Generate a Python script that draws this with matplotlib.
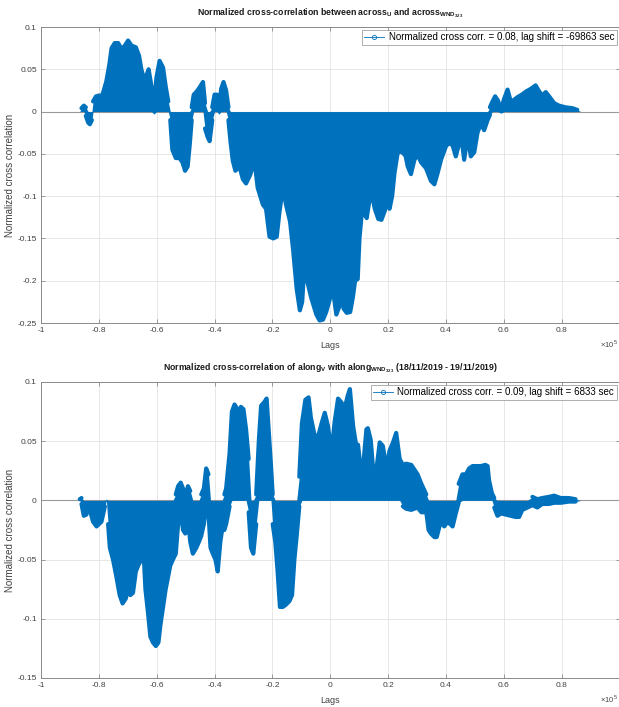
import numpy as np
import matplotlib
matplotlib.use("Agg")
import matplotlib.pyplot as plt
from matplotlib.lines import Line2D
from matplotlib.ticker import FuncFormatter, MultipleLocator

plt.rcParams['font.family'] = ['Liberation Sans', 'DejaVu Sans']
plt.rcParams['mathtext.fontset'] = 'custom'
plt.rcParams['mathtext.rm'] = 'Liberation Sans'
plt.rcParams['mathtext.bf'] = 'Liberation Sans:bold'

BLUE = '#0072BD'

# ---- across_U vs across_WND323: lags (x 1e5 s) with upper / lower stem envelopes ----
across_lags = [
    -0.866, -0.860, -0.852, -0.845, -0.837, -0.831, -0.824, -0.820, -0.810, -0.799,
    -0.791, -0.783, -0.774, -0.764, -0.756, -0.745, -0.733, -0.722, -0.710, -0.699,
    -0.687, -0.672, -0.661, -0.653, -0.645, -0.636, -0.628, -0.618, -0.609, -0.601,
    -0.590, -0.578, -0.569, -0.560, -0.553, -0.546, -0.534, -0.521, -0.511, -0.502,
    -0.493, -0.486, -0.479, -0.472, -0.461, -0.449, -0.440, -0.433, -0.424, -0.417,
    -0.408, -0.400, -0.392, -0.385, -0.377, -0.369, -0.360, -0.352, -0.345, -0.337,
    -0.328, -0.314, -0.302, -0.291, -0.277, -0.262, -0.251, -0.233, -0.222, -0.210,
    -0.197, -0.185, -0.176, -0.164, -0.153, -0.139, -0.128, -0.116, -0.105, -0.097,
    -0.089, -0.080, -0.066, -0.048, -0.037, -0.025, -0.014, 0.000, 0.009, 0.021,
    0.032, 0.039, 0.046, 0.057, 0.069, 0.078, 0.086, 0.095, 0.101, 0.108,
    0.118, 0.126, 0.136, 0.145, 0.154, 0.166, 0.177, 0.189, 0.197, 0.205,
    0.214, 0.222, 0.233, 0.245, 0.260, 0.268, 0.279, 0.291, 0.302, 0.314,
    0.331, 0.348, 0.360, 0.371, 0.383, 0.400, 0.411, 0.423, 0.434, 0.444,
    0.452, 0.463, 0.475, 0.486, 0.498, 0.509, 0.521, 0.532, 0.544, 0.552,
    0.561, 0.570, 0.580, 0.590, 0.601, 0.613, 0.624, 0.636, 0.647, 0.662,
    0.678, 0.694, 0.710, 0.722, 0.733, 0.745, 0.759, 0.774, 0.791, 0.814,
    0.837, 0.854, 0.866,
]
across_upper = [
    0.000, 0.004, 0.007, 0.005, 0.000, 0.000, 0.000, 0.012, 0.018, 0.019,
    0.017, 0.025, 0.036, 0.055, 0.075, 0.081, 0.081, 0.074, 0.078, 0.084,
    0.078, 0.076, 0.066, 0.050, 0.040, 0.042, 0.050, 0.030, 0.005, 0.040,
    0.060, 0.052, 0.030, 0.012, 0.000, 0.000, 0.000, 0.000, 0.000, 0.000,
    0.000, 0.000, 0.005, 0.020, 0.024, 0.030, 0.035, 0.010, 0.000, 0.000,
    0.005, 0.020, 0.020, 0.005, 0.027, 0.035, 0.025, 0.005, 0.000, 0.000,
    0.000, 0.000, 0.000, 0.000, 0.000, 0.000, 0.000, 0.000, 0.000, 0.000,
    0.000, 0.000, 0.000, 0.000, 0.000, 0.000, 0.000, 0.000, 0.000, 0.000,
    0.000, 0.000, 0.000, 0.000, 0.000, 0.000, 0.000, 0.000, 0.000, 0.000,
    0.000, 0.000, 0.000, 0.000, 0.000, 0.000, 0.000, 0.000, 0.000, 0.000,
    0.000, 0.000, 0.000, 0.000, 0.000, 0.000, 0.000, 0.000, 0.000, 0.000,
    0.000, 0.000, 0.000, 0.000, 0.000, 0.000, 0.000, 0.000, 0.000, 0.000,
    0.000, 0.000, 0.000, 0.000, 0.000, 0.000, 0.000, 0.000, 0.000, 0.000,
    0.000, 0.000, 0.000, 0.000, 0.000, 0.000, 0.000, 0.000, 0.000, 0.005,
    0.012, 0.018, 0.013, 0.002, 0.015, 0.026, 0.012, 0.014, 0.017, 0.020,
    0.024, 0.027, 0.031, 0.024, 0.019, 0.023, 0.017, 0.010, 0.007, 0.005,
    0.004, 0.002, 0.000,
]
across_lower = [
    0.000, 0.000, 0.000, -0.005, -0.013, -0.015, -0.010, 0.000, 0.000, 0.000,
    0.000, 0.000, 0.000, 0.000, 0.000, 0.000, 0.000, 0.000, 0.000, 0.000,
    0.000, 0.000, 0.000, 0.000, 0.000, 0.000, 0.000, 0.000, -0.003, 0.000,
    0.000, 0.000, 0.000, 0.000, -0.010, -0.045, -0.055, -0.055, -0.060, -0.070,
    -0.065, -0.040, -0.010, 0.000, 0.000, 0.000, 0.000, -0.020, -0.030, -0.035,
    -0.010, 0.000, 0.000, -0.003, 0.000, 0.000, 0.000, -0.010, -0.035, -0.058,
    -0.070, -0.065, -0.080, -0.085, -0.075, -0.058, -0.090, -0.110, -0.115, -0.148,
    -0.150, -0.148, -0.120, -0.090, -0.110, -0.130, -0.165, -0.210, -0.235, -0.225,
    -0.180, -0.200, -0.220, -0.240, -0.247, -0.246, -0.237, -0.220, -0.210, -0.240,
    -0.230, -0.205, -0.233, -0.238, -0.237, -0.220, -0.200, -0.198, -0.150, -0.124,
    -0.120, -0.126, -0.104, -0.100, -0.115, -0.127, -0.128, -0.117, -0.106, -0.115,
    -0.100, -0.073, -0.049, -0.047, -0.052, -0.065, -0.074, -0.057, -0.051, -0.060,
    -0.067, -0.082, -0.086, -0.073, -0.057, -0.041, -0.037, -0.040, -0.053, -0.040,
    -0.027, -0.057, -0.029, -0.053, -0.048, -0.025, -0.014, -0.022, -0.010, -0.004,
    0.000, 0.000, 0.000, -0.002, 0.000, 0.000, 0.000, 0.000, 0.000, 0.000,
    0.000, 0.000, 0.000, 0.000, 0.000, 0.000, 0.000, 0.000, 0.000, 0.000,
    0.000, 0.000, 0.000,
]

# ---- along_V vs along_WND323 ----
along_lags = [
    -0.866, -0.860, -0.852, -0.843, -0.837, -0.829, -0.820, -0.808, -0.791, -0.779,
    -0.774, -0.768, -0.762, -0.751, -0.739, -0.728, -0.718, -0.707, -0.699, -0.691,
    -0.682, -0.672, -0.664, -0.653, -0.647, -0.639, -0.630, -0.622, -0.613, -0.603,
    -0.594, -0.587, -0.578, -0.569, -0.561, -0.553, -0.544, -0.534, -0.526, -0.517,
    -0.509, -0.501, -0.492, -0.484, -0.475, -0.463, -0.454, -0.446, -0.437, -0.429,
    -0.421, -0.414, -0.406, -0.397, -0.389, -0.380, -0.374, -0.366, -0.360, -0.348,
    -0.340, -0.331, -0.323, -0.316, -0.309, -0.300, -0.291, -0.282, -0.274, -0.266,
    -0.256, -0.247, -0.239, -0.228, -0.220, -0.213, -0.205, -0.199, -0.190, -0.182,
    -0.174, -0.164, -0.153, -0.141, -0.132, -0.124, -0.116, -0.107, -0.098, -0.086,
    -0.075, -0.067, -0.055, -0.044, -0.030, -0.019, -0.008, 0.004, 0.015, 0.027,
    0.038, 0.050, 0.061, 0.068, 0.079, 0.090, 0.096, 0.105, 0.116, 0.125,
    0.130, 0.140, 0.148, 0.159, 0.171, 0.182, 0.194, 0.205, 0.217, 0.228,
    0.240, 0.251, 0.262, 0.280, 0.302, 0.315, 0.332, 0.340, 0.348, 0.360,
    0.368, 0.383, 0.394, 0.406, 0.423, 0.434, 0.444, 0.457, 0.469, 0.480,
    0.492, 0.503, 0.521, 0.536, 0.544, 0.549, 0.559, 0.567, 0.578, 0.590,
    0.607, 0.624, 0.641, 0.653, 0.664, 0.682, 0.699, 0.716, 0.733, 0.756,
    0.774, 0.797, 0.825, 0.848, 0.866,
]
along_upper = [
    0.001, 0.002, 0.000, 0.000, 0.000, 0.000, 0.000, 0.000, 0.000, 0.000,
    0.001, 0.000, 0.000, 0.000, 0.000, 0.000, 0.000, 0.000, 0.000, 0.000,
    0.000, 0.000, 0.000, 0.000, 0.000, 0.000, 0.000, 0.000, 0.000, 0.000,
    0.000, 0.000, 0.000, 0.000, 0.000, 0.000, 0.000, 0.005, 0.012, 0.015,
    0.010, 0.003, 0.012, 0.008, 0.000, 0.000, 0.000, 0.005, 0.010, 0.027,
    0.022, 0.000, 0.000, 0.000, 0.000, 0.000, 0.000, 0.005, 0.010, 0.040,
    0.075, 0.081, 0.078, 0.068, 0.079, 0.077, 0.060, 0.035, 0.000, 0.000,
    0.005, 0.050, 0.080, 0.083, 0.086, 0.060, 0.030, 0.005, 0.000, 0.000,
    0.000, 0.000, 0.000, 0.000, 0.000, 0.000, 0.000, 0.020, 0.065, 0.085,
    0.087, 0.070, 0.056, 0.052, 0.065, 0.074, 0.063, 0.040, 0.066, 0.086,
    0.083, 0.078, 0.089, 0.094, 0.063, 0.046, 0.047, 0.027, 0.035, 0.060,
    0.061, 0.051, 0.027, 0.025, 0.049, 0.046, 0.027, 0.042, 0.049, 0.057,
    0.035, 0.030, 0.031, 0.030, 0.022, 0.014, 0.005, 0.000, 0.000, 0.000,
    0.000, 0.000, 0.000, 0.000, 0.000, 0.000, 0.014, 0.022, 0.022, 0.027,
    0.029, 0.029, 0.029, 0.030, 0.029, 0.017, 0.006, 0.002, 0.000, 0.000,
    0.000, 0.000, 0.000, 0.000, 0.000, 0.000, 0.003, 0.001, 0.002, 0.003,
    0.004, 0.002, 0.002, 0.001, 0.000,
]
along_lower = [
    0.000, -0.003, -0.013, -0.012, -0.005, -0.010, -0.018, -0.022, -0.018, -0.005,
    0.000, -0.020, -0.040, -0.050, -0.065, -0.080, -0.087, -0.083, -0.075, -0.080,
    -0.078, -0.060, -0.055, -0.050, -0.036, -0.075, -0.095, -0.115, -0.120, -0.123,
    -0.120, -0.105, -0.090, -0.075, -0.065, -0.055, -0.050, -0.045, -0.020, -0.010,
    -0.025, -0.028, -0.015, -0.035, -0.045, -0.040, -0.035, -0.030, -0.020, -0.005,
    -0.010, -0.040, -0.045, -0.050, -0.060, -0.035, -0.025, -0.025, -0.020, -0.005,
    0.000, 0.000, 0.000, 0.000, 0.000, 0.000, 0.000, -0.010, -0.040, -0.045,
    -0.020, 0.000, 0.000, 0.000, 0.000, 0.000, 0.000, -0.020, -0.035, -0.060,
    -0.090, -0.090, -0.088, -0.085, -0.080, -0.050, -0.030, -0.005, 0.000, 0.000,
    0.000, 0.000, 0.000, 0.000, 0.000, 0.000, 0.000, 0.000, 0.000, 0.000,
    0.000, 0.000, 0.000, 0.000, 0.000, 0.000, 0.000, 0.000, 0.000, 0.000,
    0.000, 0.000, 0.000, 0.000, 0.000, 0.000, 0.000, 0.000, 0.000, 0.000,
    0.000, -0.005, -0.007, -0.008, -0.006, -0.010, -0.010, -0.025, -0.028, -0.031,
    -0.031, -0.017, -0.022, -0.018, -0.022, -0.011, -0.002, 0.000, 0.000, 0.000,
    0.000, 0.000, 0.000, 0.000, 0.000, 0.000, 0.000, -0.006, -0.013, -0.011,
    -0.012, -0.013, -0.014, -0.014, -0.008, -0.006, -0.004, -0.006, -0.003, -0.003,
    -0.002, -0.002, -0.001, -0.001, 0.000,
]

x_ticks = [-1, -0.8, -0.6, -0.4, -0.2, 0, 0.2, 0.4, 0.6, 0.8, 1]
x_tick_labels = ['-1', '-0.8', '-0.6', '-0.4', '-0.2', '0', '0.2', '0.4', '0.6', '0.8', '']

panels = [
    dict(lags=across_lags, upper=across_upper, lower=across_lower,
         ylim=(-0.25, 0.1), ystep=0.05,
         title=r'Normalized cross-correlation between across$_{\mathbf{U}}$ and '
               r'across$_{\mathbf{WND}_{\mathbf{323}}}$',
         legend='Normalized cross corr. = 0.08, lag shift = -69863 sec'),
    dict(lags=along_lags, upper=along_upper, lower=along_lower,
         ylim=(-0.15, 0.1), ystep=0.05,
         title=r'Normalized cross-correlation of along$_{\mathbf{V}}$ with '
               r'along$_{\mathbf{WND}_{\mathbf{323}}}$ (18/11/2019 - 19/11/2019)',
         legend='Normalized cross corr. = 0.09, lag shift = 6833 sec'),
]

W, H = 619, 707
fig = plt.figure(figsize=(W / 100, H / 100), dpi=100)
rects = [
    [41 / W, 1 - 323 / H, 578.5 / W, 296 / H],
    [41 / W, 1 - 678 / H, 578.5 / W, 296 / H],
]

yfmt = FuncFormatter(lambda v, p: '0' if abs(v) < 1e-12 else '%g' % round(v, 4))

for rect, p in zip(rects, panels):
    ax = fig.add_axes(rect)
    lags = np.asarray(p['lags'])
    up = np.asarray(p['upper'])
    lo = np.asarray(p['lower'])
    assert len(lags) == len(up) == len(lo)

    ax.axhline(0, color='#9a9a9a', lw=0.8, zorder=1)
    ax.fill_between(lags, lo, up, color=BLUE, lw=0, zorder=2)
    # stem-head outline: thick rounded edge along both envelopes
    ax.plot(lags, np.where(up > 0, up, np.nan), color=BLUE, lw=3.0,
            solid_capstyle='round', solid_joinstyle='round', zorder=3)
    ax.plot(lags, np.where(lo < 0, lo, np.nan), color=BLUE, lw=3.0,
            solid_capstyle='round', solid_joinstyle='round', zorder=3)

    ax.set_xlim(-1, 1)
    ax.set_ylim(*p['ylim'])
    ax.set_xticks(x_ticks)
    ax.set_xticklabels(x_tick_labels)
    ax.yaxis.set_major_locator(MultipleLocator(p['ystep']))
    ax.yaxis.set_major_formatter(yfmt)
    ax.grid(True, color='#e3e3e3', lw=0.6)
    ax.set_axisbelow(True)
    for s in ax.spines.values():
        s.set_color('#8a8a8a')
        s.set_linewidth(0.7)
    ax.tick_params(direction='in', length=3, width=0.6, color='#8a8a8a',
                   labelsize=6, labelcolor='#404040', top=True, right=True, pad=3)

    ax.set_title(p['title'], fontsize=6.3, fontweight='bold', pad=8, color='#1a1a1a')
    ax.set_xlabel('Lags', fontsize=6.5, color='#404040', labelpad=5)
    ax.set_ylabel('Normalized cross correlation', fontsize=7, color='#404040', labelpad=2)
    ax.text(0.997, -0.05, r'$\times10^5$', transform=ax.transAxes, ha='right', va='top',
            fontsize=5.5, color='#404040')

    handle = Line2D([], [], color=BLUE, lw=0.6, marker='o', markersize=3,
                    markerfacecolor='none', markeredgewidth=0.6)
    leg = ax.legend([handle], [p['legend']], loc='upper right', fontsize=7,
                    frameon=True, fancybox=False, borderaxespad=0.3,
                    handlelength=2.0, handletextpad=0.5, borderpad=0.25)
    leg.get_frame().set_edgecolor('#8a8a8a')
    leg.get_frame().set_linewidth(0.6)

fig.savefig('out.png', dpi=100)
